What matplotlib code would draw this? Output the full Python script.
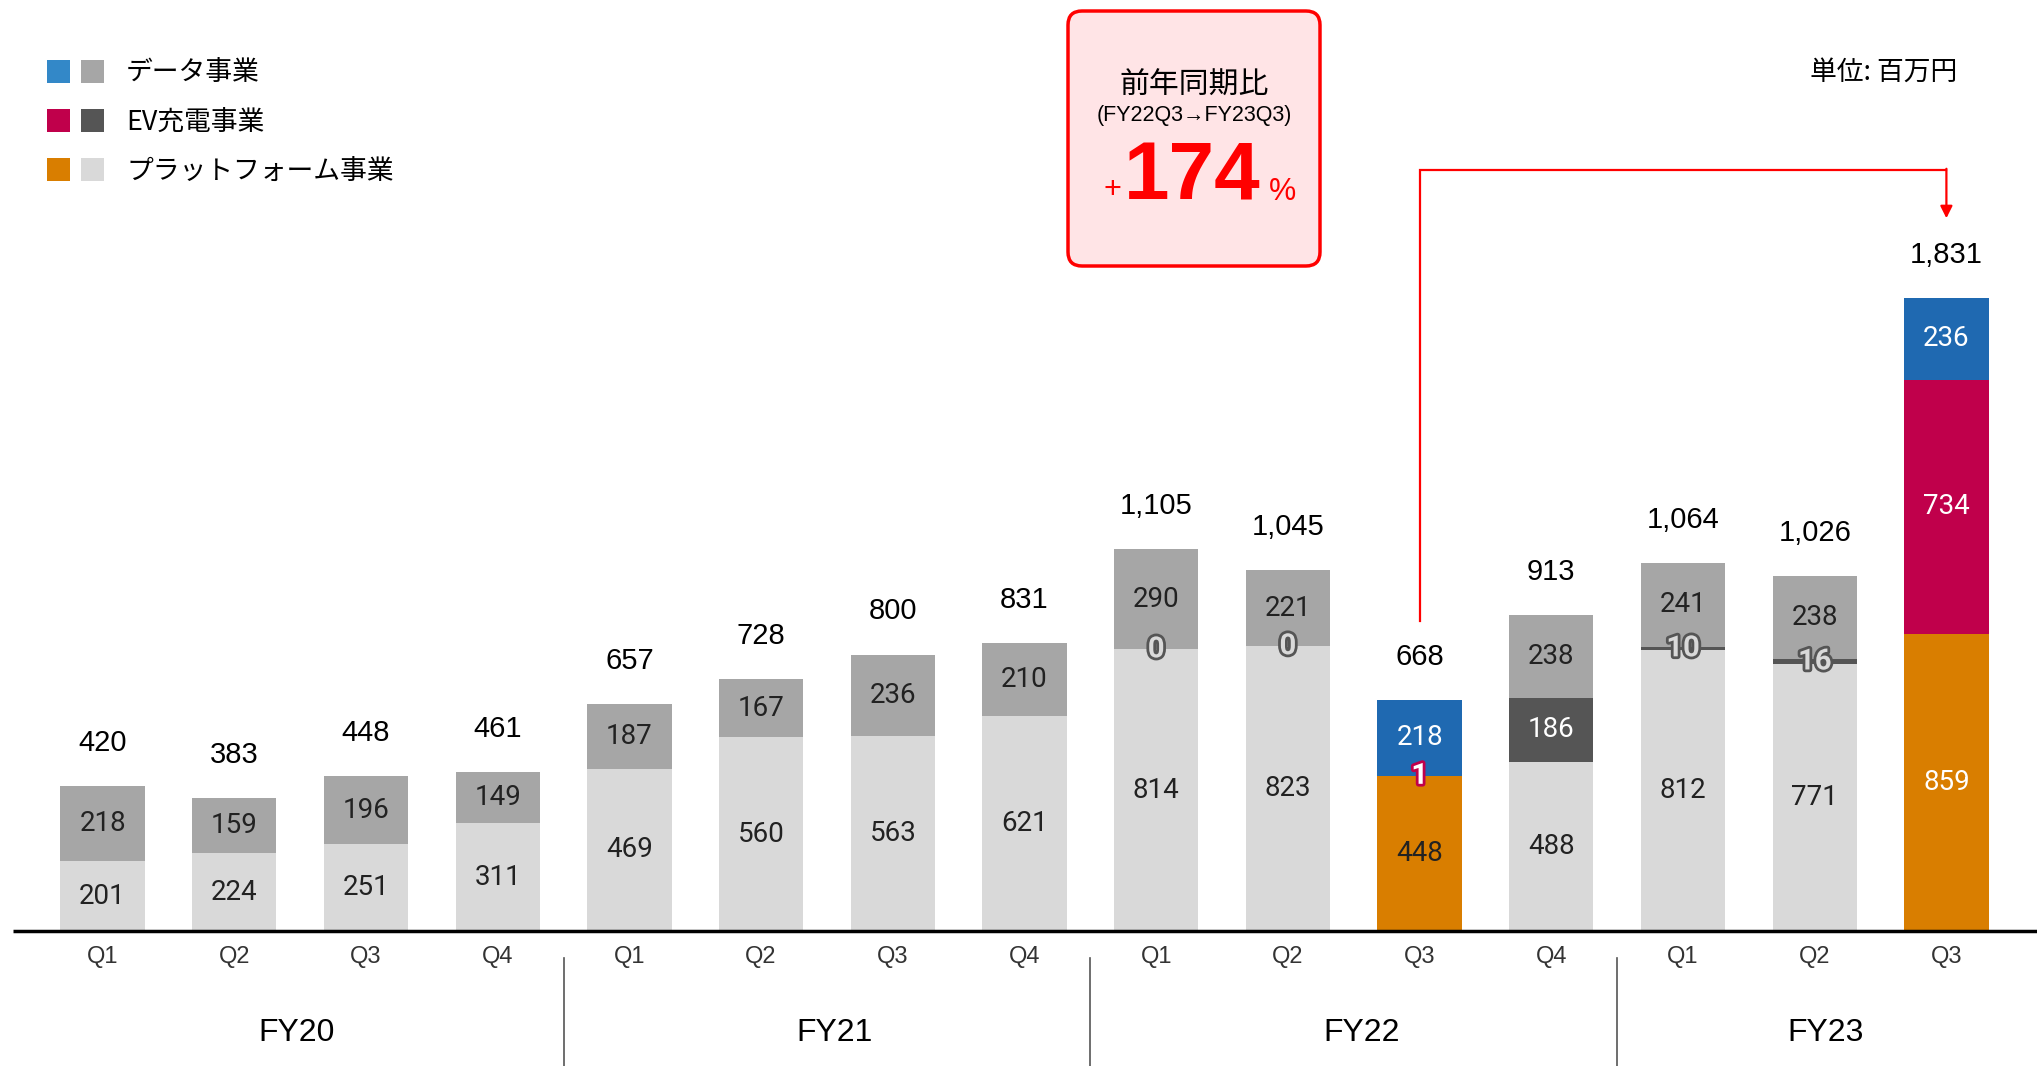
import matplotlib
matplotlib.use('Agg')
import matplotlib.pyplot as plt
import matplotlib.patheffects as pe
from matplotlib.patches import FancyBboxPatch, Rectangle
from matplotlib.transforms import IdentityTransform, blended_transform_factory

plt.rcParams['font.family'] = ['Liberation Sans', 'Noto Sans CJK JP', 'DejaVu Sans']

# Quarterly revenue (million yen), stacked bottom -> top
years = ['FY20', 'FY21', 'FY22', 'FY23']
quarters = ['Q1', 'Q2', 'Q3', 'Q4', 'Q1', 'Q2', 'Q3', 'Q4',
            'Q1', 'Q2', 'Q3', 'Q4', 'Q1', 'Q2', 'Q3']
platform = [201, 224, 251, 311, 469, 560, 563, 621, 814, 823, 448, 488, 812, 771, 859]
ev = [None] * 8 + [0, 0, 1, 186, 10, 16, 734]
data = [218, 159, 196, 149, 187, 167, 236, 210, 290, 221, 218, 238, 241, 238, 236]
totals = [420, 383, 448, 461, 657, 728, 800, 831, 1105, 1045, 668, 913, 1064, 1026, 1831]
highlight = [10, 14]
legend_labels = ['データ事業', 'EV充電事業', 'プラットフォーム事業']

W, H = 2037, 1066
BASE = 931          # baseline, pixels from top
PX_PER_UNIT = 0.346
X0, STEP = 102.6, 131.7   # first bar centre and bar spacing, pixels

GREY = {'data': '#a6a6a6', 'ev': '#555555', 'platform': '#d9d9d9'}
COLOR = {'data': '#1f69b1', 'ev': '#c0004b', 'platform': '#d97e00'}
LEGEND_COLOR = {'data': '#3388c8', 'ev': '#c0004b', 'platform': '#d97e00'}
CJK = ['Noto Sans CJK JP', 'DejaVu Sans']


def fx(p):
    return p / W


def fy(p):
    return 1 - p / H


def ay(p):
    # pixel from top -> axes fraction
    return (BASE - p) / BASE


def px_to_x(p):
    return (p - X0) / STEP


def main():
    fig = plt.figure(figsize=(W / 100, H / 100), dpi=100)
    ax = fig.add_axes([0, fy(BASE), 1, BASE / H])
    ax.set_xlim(px_to_x(0), px_to_x(W))
    ax.set_ylim(0, BASE / PX_PER_UNIT)
    ax.axis('off')

    width = 0.64
    n = len(quarters)
    inner = dict(family='Roboto', fontsize=20, ha='center', va='center')
    tops = []
    for i in range(n):
        hl = i in highlight
        pal = COLOR if hl else GREY
        e = ev[i] if ev[i] is not None else 0
        segs = [('platform', platform[i]), ('ev', e), ('data', data[i])]
        bottom = 0
        for key, val in segs:
            if val > 0:
                ax.bar(i, val, width, bottom=bottom, color=pal[key], linewidth=0)
            bottom += val
        tops.append(bottom)

        # platform label
        pc = '#222222'
        if hl and platform[i] > 500:
            pc = 'white'
        ax.text(i, platform[i] / 2, str(platform[i]), color=pc, **inner)
        # data label
        ax.text(i, platform[i] + e + data[i] / 2, str(data[i]),
                color='white' if hl else '#222222', **inner)
        # ev label
        if ev[i] is not None:
            if e >= 50:
                ax.text(i, platform[i] + e / 2, str(e), color='white', **inner)
            else:
                edge = COLOR['ev'] if hl else '#555555'
                fill = 'white' if hl else '#d9d9d9'
                ax.text(i, platform[i] + e / 2, str(e), color=fill,
                        family='Roboto', fontsize=21, fontweight='bold',
                        ha='center', va='center',
                        path_effects=[pe.withStroke(linewidth=4, foreground=edge)])

    for i in range(n):
        ax.annotate(f'{totals[i]:,}', xy=(i, tops[i]), xytext=(0, 31),
                    textcoords='offset points', ha='center', va='center',
                    fontsize=21, color='black')

    # baseline
    ax.plot([px_to_x(13), px_to_x(W)], [0, 0],
            color='black', lw=2.5, clip_on=False, solid_capstyle='butt')

    # quarter and year labels
    trans = blended_transform_factory(ax.transData, ax.transAxes)
    for i, q in enumerate(quarters):
        ax.text(i, ay(957), q, transform=trans, ha='center', va='center',
                fontsize=17, color='#333333')
    year_centers = [1.47, 5.56, 9.56, 13.08]
    for x, y in zip(year_centers, years):
        ax.text(x, ay(1033), y, transform=trans, ha='center', va='center',
                fontsize=23, color='black')
    for x in [3.5, 7.5, 11.5]:
        ax.plot([x, x], [ay(958), ay(H)], transform=trans, color='#555555',
                lw=1.2, clip_on=False)

    # year-over-year arrow
    y0 = tops[10] + 230
    y1 = 2200
    ax.plot([10, 10, 14], [y0, y1, y1], color='red', lw=1.6,
            solid_joinstyle='miter')
    ax.annotate('', xy=(14, 2060), xytext=(14, y1 + 3),
                arrowprops=dict(arrowstyle='-|>', color='red', lw=1.6,
                                mutation_scale=18, shrinkA=0, shrinkB=0))

    # YoY box
    ident = IdentityTransform()
    box = FancyBboxPatch((1068, H - 266), 252, 255,
                         boxstyle='round,pad=0,rounding_size=14',
                         transform=ident, facecolor='#ffe4e6',
                         edgecolor='#ff0000', lw=2.5)
    fig.patches.append(box)
    fig.text(fx(1194), fy(85), '前年同期比', ha='center', va='center',
             fontsize=21.5, family=CJK)
    fig.text(fx(1194), fy(115), '(FY22Q3→FY23Q3)', ha='center', va='center',
             fontsize=15.5)
    fig.text(fx(1192), fy(178), '174', ha='center', va='center',
             fontsize=59, fontweight='bold', color='#ff0000')
    fig.text(fx(1112), fy(190), '+', ha='center', va='center',
             fontsize=22, color='#ff0000')
    fig.text(fx(1283), fy(192), '%', ha='center', va='center',
             fontsize=22, color='#ff0000')

    # unit note
    fig.text(fx(1884), fy(72), '単位: 百万円', ha='center', va='center',
             fontsize=19.3, family=CJK)

    # legend
    rows = [71, 120, 169]
    for row, key, label in zip(rows, ['data', 'ev', 'platform'], legend_labels):
        for x0, c in [(47, LEGEND_COLOR[key]), (81, GREY[key])]:
            fig.patches.append(Rectangle((x0, H - row - 11.5), 23, 23,
                                         transform=ident, facecolor=c,
                                         edgecolor='none'))
        fig.text(fx(126), fy(row + 2), label, ha='left', va='center',
                 fontsize=19.3, family=CJK)

    fig.savefig('out.png', dpi=100)


if __name__ == '__main__':
    main()
